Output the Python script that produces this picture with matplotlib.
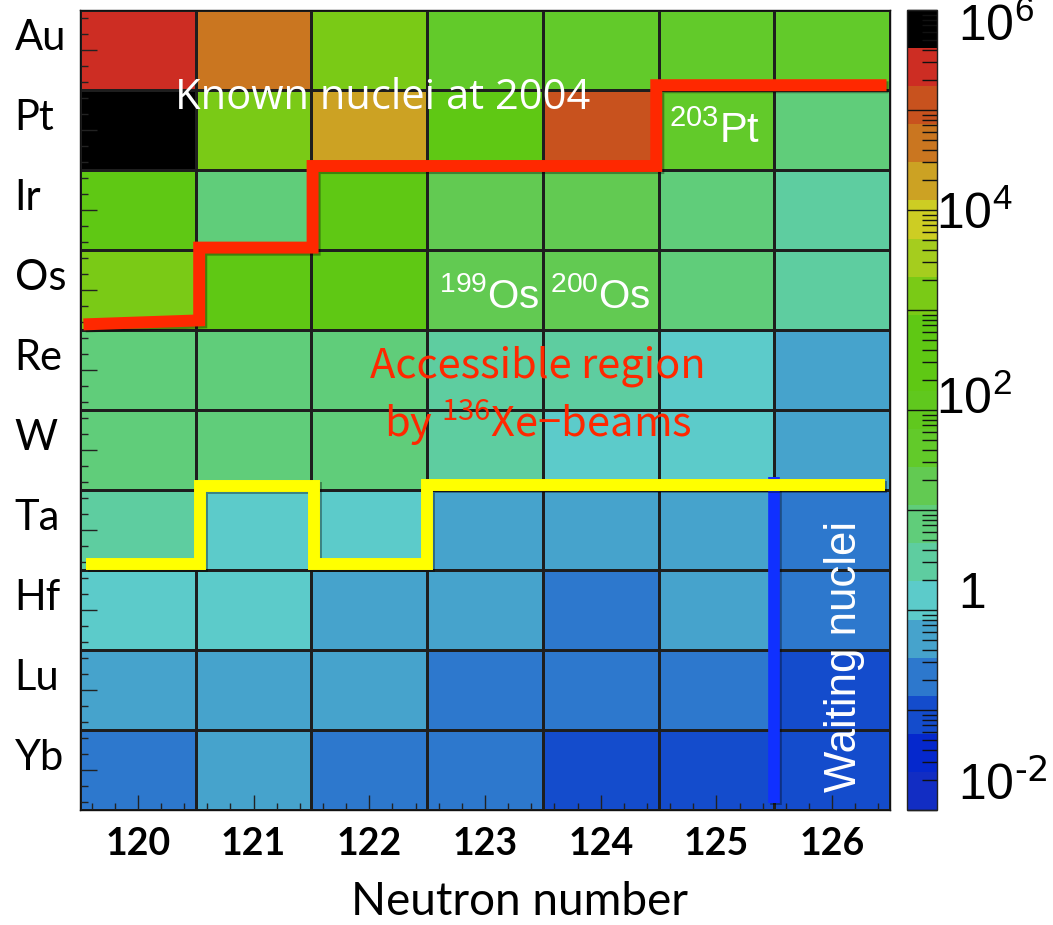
import numpy as np
import matplotlib
matplotlib.use("Agg")
import matplotlib.pyplot as plt
from matplotlib.colors import ListedColormap, LogNorm
from matplotlib.ticker import FixedLocator, LogLocator, NullFormatter, MultipleLocator
import matplotlib.patheffects as pe

plt.rcParams['mathtext.default'] = 'regular'

# ---------------- data ----------------
neutrons = [120, 121, 122, 123, 124, 125, 126]
protons = [70, 71, 72, 73, 74, 75, 76, 77, 78, 79]
elements = ["Yb", "Lu", "Hf", "Ta", "W", "Re", "Os", "Ir", "Pt", "Au"]

# estimated production values, rows Yb ... Au, columns N=120 ... 126
yields = [
    [0.21, 0.51, 0.21, 0.21, 0.09, 0.09, 0.09],        # Yb
    [0.51, 0.51, 0.51, 0.21, 0.21, 0.21, 0.09],        # Lu
    [1.2, 1.2, 0.51, 0.51, 0.21, 0.51, 0.21],          # Hf
    [3.0, 1.2, 1.2, 0.51, 0.51, 0.51, 0.21],           # Ta
    [7.2, 7.2, 7.2, 3.0, 1.2, 1.2, 0.51],              # W
    [7.2, 7.2, 7.2, 3.0, 3.0, 1.2, 0.51],              # Re
    [1400, 240, 240, 17, 17, 7.2, 3.0],                # Os
    [240, 7.2, 240, 17, 17, 7.2, 3.0],                 # Ir
    [6.5e5, 1400, 2.0e4, 240, 1.1e5, 42, 7.2],         # Pt
    [2.7e5, 4.7e4, 1400, 42, 42, 42, 42],              # Au
]

# palette bands (bottom -> top), 21 equal log bands from 1e-2 to 1e6
band_colors = ["#122dc3", "#0528cd", "#144ccc", "#2d78cd", "#46a3cc",
               "#5ccbca", "#5ecda0", "#60cd7a", "#62ca52", "#62ca2a",
               "#60c81e", "#5fc814", "#5fc814", "#7aca16", "#a5cd1e",
               "#cdcd23", "#cca223", "#ca7620", "#c8521e", "#cd2d23",
               "#000000"]
vmin, vmax = 1e-2, 1e6

# boundary lines
known_N = [119.53, 120.53, 120.53, 121.51, 121.51, 124.48, 124.48, 126.47]
known_Z = [75.57, 75.62, 76.53, 76.53, 77.55, 77.55, 78.56, 78.56]
access_N = [119.55, 120.54, 120.54, 121.52, 121.52, 122.50, 122.50, 126.46]
access_Z = [72.58, 72.58, 73.55, 73.55, 72.58, 72.58, 73.56, 73.56]
waiting_N = [125.50, 125.50]
waiting_Z = [73.66, 69.59]

cbar_labels = [r"$10^{6}$", r"$10^{4}$", r"$10^{2}$", "1", r"$10^{\text{-2}}$"]

# ---------------- figure ----------------
W, H = 1053, 925
fig = plt.figure(figsize=(W / 100, H / 100), dpi=100)
ax = fig.add_axes([80 / W, (H - 810) / H, 810 / W, 800 / H])
cax = fig.add_axes([907 / W, (H - 810) / H, 30 / W, 800 / H])

cmap = ListedColormap(band_colors)
norm = LogNorm(vmin=vmin, vmax=vmax)

n_edges = np.arange(len(neutrons) + 1) + neutrons[0] - 0.5
z_edges = np.arange(len(protons) + 1) + protons[0] - 0.5
mesh = ax.pcolormesh(n_edges, z_edges, np.array(yields), cmap=cmap, norm=norm,
                     edgecolors="#1e1e1e", linewidth=0.8)
ax.set_xlim(n_edges[0], n_edges[-1])
ax.set_ylim(z_edges[0], z_edges[-1])

for s in ax.spines.values():
    s.set_linewidth(1.0)
    s.set_color("#111111")

# ticks
ax.set_xticks(neutrons)
ax.set_xticklabels([str(n) for n in neutrons], fontfamily="Lato",
                   fontweight="bold", fontsize=27)
ax.xaxis.set_minor_locator(MultipleLocator(0.2))
ax.set_yticks(protons)
ax.set_yticklabels(elements, fontfamily="Lato", fontsize=30)
ax.yaxis.set_minor_locator(MultipleLocator(0.2))
ax.tick_params(axis="x", which="major", direction="in", length=11, width=1,
               color="#222222", pad=12, top=False)
ax.tick_params(axis="x", which="minor", direction="in", length=5, width=1,
               color="#222222", top=False)
ax.tick_params(axis="y", which="major", direction="in", length=12, width=1,
               color="#222222", pad=47, right=False)
ax.tick_params(axis="y", which="minor", direction="in", length=6, width=1,
               color="#222222", right=False)
for lbl in ax.get_yticklabels():
    lbl.set_ha("left")
    lbl.set_va("baseline")

ax.set_xlabel("Neutron number", fontfamily="Lato", fontsize=33, va="center")
ax.xaxis.set_label_coords(0.542, -0.115)

# lines
shadow = [pe.SimpleLineShadow(offset=(1.5, -1.5), alpha=0.35, shadow_color="k"),
          pe.Normal()]
ax.plot(waiting_N, waiting_Z, color="#1030ff", lw=8.4, solid_capstyle="butt",
        path_effects=shadow, zorder=4)
ax.plot(access_N, access_Z, color="#ffff00", lw=8.6, solid_capstyle="butt",
        solid_joinstyle="miter", path_effects=shadow, zorder=5)
ax.plot(known_N, known_Z, color="#ff2800", lw=8.6, solid_capstyle="butt",
        solid_joinstyle="miter", path_effects=shadow, zorder=5)

# annotations
ax.text(120.32, 78.26, "Known nuclei at 2004", color="white",
        fontfamily="Open Sans", fontsize=30, ha="left", va="baseline", zorder=6)
ax.text(124.59, 77.84, r"$^{203}$Pt", color="white",
        fontfamily="Liberation Sans", fontsize=30, ha="left", va="baseline", zorder=6)
ax.text(122.60, 75.775, r"$^{199}$Os $^{200}$Os", color="white",
        fontfamily="Liberation Sans", fontsize=29, ha="left", va="baseline", zorder=6)
ax.text(123.46, 74.90, "Accessible region", color="#ff2800",
        fontfamily="Noto Sans CJK JP", fontsize=30, ha="center", va="baseline", zorder=6)
ax.text(123.46, 74.16, r"by $^{136}$Xe−beams", color="#ff2800",
        fontfamily="Noto Sans CJK JP", fontsize=30, ha="center", va="baseline", zorder=6)
ax.text(126.11, 71.425, "Waiting nuclei", color="white", rotation=90,
        fontfamily="Liberation Sans", fontsize=31.5, ha="center", va="center", zorder=6)

# colorbar
cb = fig.colorbar(mesh, cax=cax)
cb.outline.set_linewidth(1.0)
cb.outline.set_edgecolor("#222222")
cax.yaxis.set_major_locator(FixedLocator(10.0 ** np.arange(-2, 7)))
cax.yaxis.set_minor_locator(LogLocator(base=10, subs=np.arange(2, 10), numticks=30))
cax.yaxis.set_major_formatter(NullFormatter())
cax.yaxis.set_minor_formatter(NullFormatter())
cax.tick_params(which="major", direction="in", length=21.6, width=1, color="#111111",
                right=True, left=False)
cax.tick_params(which="minor", direction="in", length=10.8, width=1, color="#111111",
                right=True, left=False)

label_x = [1.70, 0.97, 0.97, 1.70, 1.70]
label_y = [0.961, 0.726, 0.495, 0.2525, 0.0125]
for s, lx, ly in zip(cbar_labels, label_x, label_y):
    cax.text(lx, ly, s, transform=cax.transAxes, fontfamily="Liberation Sans",
             fontsize=36, ha="left", va="baseline", color="black")

fig.savefig("out.png", dpi=100)
